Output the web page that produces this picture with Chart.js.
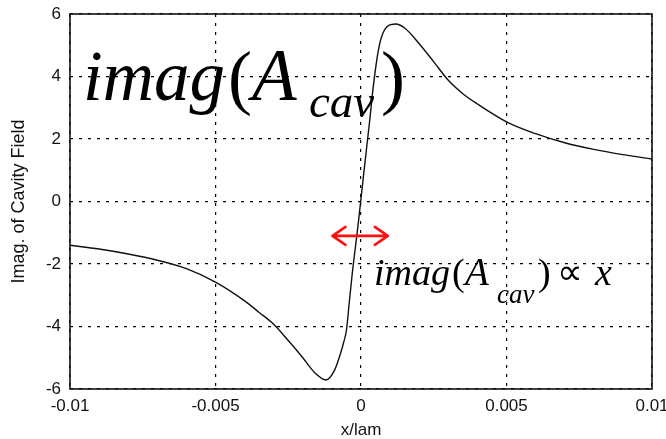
<!DOCTYPE html>
<html>
<head>
<meta charset="utf-8">
<script src="https://cdn.jsdelivr.net/npm/chart.js@4/dist/chart.umd.min.js"></script>
<style>
  html, body { margin: 0; padding: 0; background: #ffffff; }
  #wrap { width: 666px; height: 439px; }
</style>
</head>
<body>
<div id="wrap"><canvas id="c" width="666" height="439"></canvas></div>
<script>
// ---- data ----
const xValues = [-0.01, -0.009, -0.008, -0.007, -0.006, -0.005, -0.004, -0.0035, -0.003, -0.0025, -0.002, -0.0016, -0.0012, -0.0009, -0.0007, -0.0006, -0.0005, -0.0004, -0.0003, -0.0001, 0.0001, 0.0003, 0.0004, 0.0005, 0.0006, 0.0007, 0.0009, 0.0012, 0.0015, 0.002, 0.0025, 0.003, 0.0035, 0.004, 0.005, 0.006, 0.007, 0.008, 0.009, 0.01];
const yValues = [-1.40, -1.52, -1.68, -1.88, -2.15, -2.58, -3.18, -3.55, -3.93, -4.45, -5.0, -5.47, -5.71, -5.38, -4.85, -4.52, -4.12, -3.2, -2.3, -0.75, 0.95, 2.6, 3.5, 4.25, 4.85, 5.25, 5.6, 5.68, 5.55, 5.05, 4.47, 3.88, 3.45, 3.12, 2.55, 2.17, 1.88, 1.67, 1.50, 1.36];
const xTickValues = [-0.01, -0.005, 0, 0.005, 0.01];
const xTickLabels = ['-0.01', '-0.005', '0', '0.005', '0.01'];
const yTickValues = [-6, -4, -2, 0, 2, 4, 6];
const yTickLabels = ['-6', '-4', '-2', '0', '2', '4', '6'];
const xTitle = 'x/lam';
const yTitle = 'Imag. of Cavity Field';

const points = xValues.map((x, i) => ({ x: x, y: yValues[i] }));

const SERIF = '"Liberation Serif", "Times New Roman", Times, serif';
const SANS = '"Liberation Sans", Arial, Helvetica, sans-serif';

function drawPieces(ctx, pieces) {
  pieces.forEach(p => {
    ctx.font = p.font;
    ctx.fillText(p.t, p.x, p.y);
  });
}

const overlay = {
  id: 'overlay',
  beforeDraw(chart) {
    const ctx = chart.ctx;
    ctx.save();
    ctx.fillStyle = '#ffffff';
    ctx.fillRect(0, 0, chart.width, chart.height);
    ctx.restore();
  },
  afterDatasetsDraw(chart) {
    const ctx = chart.ctx;
    const a = chart.chartArea;
    ctx.save();
    // plot box
    ctx.strokeStyle = '#111';
    ctx.lineWidth = 1.6;
    ctx.strokeRect(a.left, a.top, a.right - a.left, a.bottom - a.top);

    // big annotation
    ctx.fillStyle = '#000';
    ctx.textBaseline = 'alphabetic';
    ctx.textAlign = 'left';
    drawPieces(ctx, [
      { t: 'imag', font: 'italic 71px ' + SERIF, x: 83, y: 100 },
      { t: '(', font: '72px ' + SERIF, x: 228, y: 101 },
      { t: 'A', font: 'italic 73px ' + SERIF, x: 252, y: 100 },
      { t: 'cav', font: 'italic 47px ' + SERIF, x: 309, y: 117 },
      { t: ')', font: '72px ' + SERIF, x: 381, y: 101 }
    ]);
    // small annotation
    drawPieces(ctx, [
      { t: 'imag', font: 'italic 38px ' + SERIF, x: 374, y: 285 },
      { t: '(', font: '38px ' + SERIF, x: 452, y: 285 },
      { t: 'A', font: 'italic 39px ' + SERIF, x: 465, y: 285 },
      { t: 'cav', font: 'italic 27px ' + SERIF, x: 497, y: 303 },
      { t: ')', font: '38px ' + SERIF, x: 538, y: 285 },
      { t: '\u221D', font: '36px ' + SERIF, x: 557, y: 284 },
      { t: 'x', font: 'italic 38px ' + SERIF, x: 595, y: 285 }
    ]);

    // red double-headed arrow
    const xs = chart.scales.x, ys = chart.scales.y;
    const x1 = xs.getPixelForValue(-0.00098), x2 = xs.getPixelForValue(0.00092);
    const yA = ys.getPixelForValue(-1.1);
    ctx.strokeStyle = '#ff1010';
    ctx.lineWidth = 2.6;
    ctx.lineCap = 'round';
    ctx.lineJoin = 'round';
    ctx.beginPath();
    ctx.moveTo(x1, yA); ctx.lineTo(x2, yA);
    ctx.moveTo(x1 + 13, yA - 9); ctx.lineTo(x1, yA); ctx.lineTo(x1 + 13, yA + 9);
    ctx.moveTo(x2 - 13, yA - 9); ctx.lineTo(x2, yA); ctx.lineTo(x2 - 13, yA + 9);
    ctx.stroke();
    ctx.restore();
  }
};

new Chart(document.getElementById('c'), {
  type: 'scatter',
  data: {
    datasets: [{
      data: points,
      showLine: true,
      borderColor: '#111',
      borderWidth: 1.4,
      pointRadius: 0,
      cubicInterpolationMode: 'monotone',
      fill: false
    }]
  },
  options: {
    responsive: false,
    animation: false,
    devicePixelRatio: 1,
    layout: { padding: { top: 14, right: 14, left: 0, bottom: 0 } },
    plugins: {
      legend: { display: false },
      tooltip: { enabled: false }
    },
    scales: {
      x: {
        type: 'linear',
        min: -0.01, max: 0.01,
        afterBuildTicks: s => { s.ticks = xTickValues.map(v => ({ value: v })); },
        afterFit: s => { s.height = 50; s.paddingLeft = 0; s.paddingRight = 0; },
        grid: { color: '#000', lineWidth: 1.2, drawTicks: false },
        border: { display: false, dash: [3, 6] },
        ticks: {
          padding: 7,
          color: '#111',
          font: { family: SANS, size: 17 },
          maxRotation: 0,
          autoSkip: false,
          callback: (v) => { const i = xTickValues.findIndex(t => Math.abs(t - v) < 1e-9); return i >= 0 ? xTickLabels[i] : ''; }
        },
        title: {
          display: true, text: xTitle, color: '#111',
          font: { family: SANS, size: 17, lineHeight: 1.0 },
          padding: { top: 0, bottom: 0 }
        }
      },
      y: {
        type: 'linear',
        min: -6, max: 6,
        afterBuildTicks: s => { s.ticks = yTickValues.map(v => ({ value: v })); },
        afterFit: s => { s.width = 70; s.paddingTop = 0; s.paddingBottom = 0; },
        grid: { color: '#000', lineWidth: 1.2, drawTicks: false },
        border: { display: false, dash: [3, 6] },
        ticks: {
          padding: 9,
          color: '#111',
          font: { family: SANS, size: 17 },
          autoSkip: false,
          callback: (v) => { const i = yTickValues.findIndex(t => Math.abs(t - v) < 1e-9); return i >= 0 ? yTickLabels[i] : ''; }
        },
        title: {
          display: true, text: yTitle, color: '#111',
          font: { family: SANS, size: 18 },
          padding: { top: 8, bottom: 0 }
        }
      }
    }
  },
  plugins: [overlay]
});
</script>
</body>
</html>
